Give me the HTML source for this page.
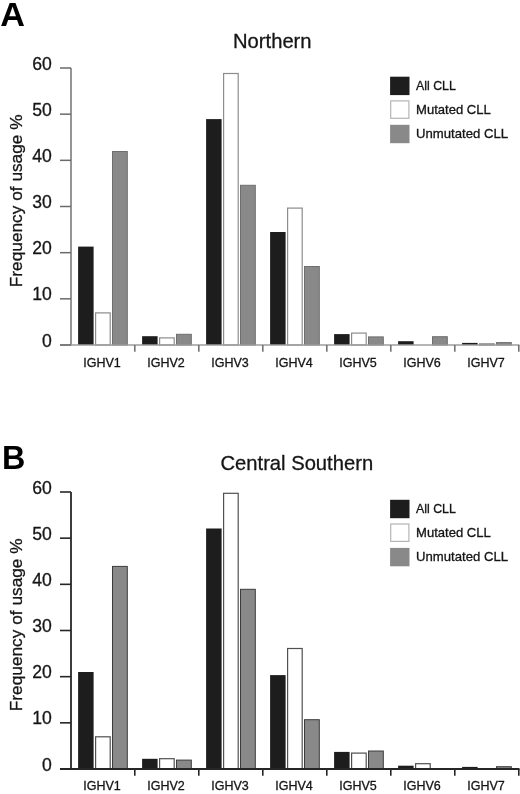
<!DOCTYPE html>
<html><head><meta charset="utf-8"><style>
html,body{margin:0;padding:0;background:#fff;}
body{width:520px;height:794px;overflow:hidden;}
svg{display:block;will-change:transform;}
</style></head><body>
<svg width="520" height="794" viewBox="0 0 520 794">
<rect width="520" height="794" fill="#fff"/>
<text transform="translate(0.30,26.00) scale(1.06,1)" x="0" y="0" font-family='"Liberation Sans", sans-serif' font-weight="bold" font-size="32.3" fill="#000">A</text>
<text x="272.3" y="48.10" text-anchor="middle" font-family='"Liberation Sans", sans-serif' font-size="20.2" fill="#151515" stroke="#151515" stroke-width="0.3">Northern</text>
<text transform="translate(22.3,287.20) rotate(-90)" x="0" y="0" font-family='"Liberation Sans", sans-serif' font-size="17" fill="#151515" stroke="#151515" stroke-width="0.3" textLength="172.8" lengthAdjust="spacingAndGlyphs">Frequency of usage %</text>
<rect x="78.10" y="246.60" width="15.5" height="98.40" fill="#1d1d1d"/>
<rect x="95.60" y="312.90" width="14.60" height="32.10" fill="#fff" stroke="#8c8c8c" stroke-width="1.2"/>
<rect x="112.50" y="151.50" width="14.80" height="193.50" fill="#898989" stroke="#6e6e6e" stroke-width="1.0"/>
<rect x="142.10" y="336.20" width="15.5" height="8.80" fill="#1d1d1d"/>
<rect x="159.60" y="337.90" width="14.60" height="7.10" fill="#fff" stroke="#8c8c8c" stroke-width="1.2"/>
<rect x="176.50" y="334.30" width="14.80" height="10.70" fill="#898989" stroke="#6e6e6e" stroke-width="1.0"/>
<rect x="206.10" y="119.10" width="15.5" height="225.90" fill="#1d1d1d"/>
<rect x="223.60" y="73.50" width="14.60" height="271.50" fill="#fff" stroke="#8c8c8c" stroke-width="1.2"/>
<rect x="240.50" y="185.30" width="14.80" height="159.70" fill="#898989" stroke="#6e6e6e" stroke-width="1.0"/>
<rect x="270.10" y="232.00" width="15.5" height="113.00" fill="#1d1d1d"/>
<rect x="287.60" y="208.10" width="14.60" height="136.90" fill="#fff" stroke="#8c8c8c" stroke-width="1.2"/>
<rect x="304.50" y="266.50" width="14.80" height="78.50" fill="#898989" stroke="#6e6e6e" stroke-width="1.0"/>
<rect x="334.10" y="334.10" width="15.5" height="10.90" fill="#1d1d1d"/>
<rect x="351.60" y="333.10" width="14.60" height="11.90" fill="#fff" stroke="#8c8c8c" stroke-width="1.2"/>
<rect x="368.50" y="336.90" width="14.80" height="8.10" fill="#898989" stroke="#6e6e6e" stroke-width="1.0"/>
<rect x="398.10" y="341.20" width="15.5" height="3.80" fill="#1d1d1d"/>
<rect x="432.50" y="336.70" width="14.80" height="8.30" fill="#898989" stroke="#6e6e6e" stroke-width="1.0"/>
<rect x="462.10" y="342.90" width="15.5" height="2.10" fill="#1d1d1d"/>
<rect x="479.60" y="343.80" width="14.60" height="1.20" fill="#fff" stroke="#8c8c8c" stroke-width="1.2"/>
<rect x="496.50" y="342.60" width="14.80" height="2.40" fill="#898989" stroke="#6e6e6e" stroke-width="1.0"/>
<line x1="71" y1="68.00" x2="71" y2="345.00" stroke="#8a8a8a" stroke-width="1.8"/>
<line x1="60" y1="345.00" x2="519.5" y2="345.00" stroke="#9c9c9c" stroke-width="1.4"/>
<line x1="60" y1="345.00" x2="71" y2="345.00" stroke="#6a6a6a" stroke-width="1.5"/>
<line x1="60" y1="68.00" x2="71" y2="68.00" stroke="#6a6a6a" stroke-width="1.5"/>
<line x1="60" y1="114.17" x2="71" y2="114.17" stroke="#6a6a6a" stroke-width="1.5"/>
<line x1="60" y1="160.33" x2="71" y2="160.33" stroke="#6a6a6a" stroke-width="1.5"/>
<line x1="60" y1="206.50" x2="71" y2="206.50" stroke="#6a6a6a" stroke-width="1.5"/>
<line x1="60" y1="252.67" x2="71" y2="252.67" stroke="#6a6a6a" stroke-width="1.5"/>
<line x1="60" y1="298.83" x2="71" y2="298.83" stroke="#6a6a6a" stroke-width="1.5"/>
<line x1="134.80" y1="345.00" x2="134.80" y2="351.80" stroke="#6a6a6a" stroke-width="1.5"/>
<line x1="198.80" y1="345.00" x2="198.80" y2="351.80" stroke="#6a6a6a" stroke-width="1.5"/>
<line x1="262.80" y1="345.00" x2="262.80" y2="351.80" stroke="#6a6a6a" stroke-width="1.5"/>
<line x1="326.80" y1="345.00" x2="326.80" y2="351.80" stroke="#6a6a6a" stroke-width="1.5"/>
<line x1="390.80" y1="345.00" x2="390.80" y2="351.80" stroke="#6a6a6a" stroke-width="1.5"/>
<line x1="454.80" y1="345.00" x2="454.80" y2="351.80" stroke="#6a6a6a" stroke-width="1.5"/>
<line x1="518.80" y1="345.00" x2="518.80" y2="351.80" stroke="#6a6a6a" stroke-width="1.5"/>
<text x="51.8" y="69.50" text-anchor="end" font-family='"Liberation Sans", sans-serif' font-size="17.6" fill="#151515" stroke="#151515" stroke-width="0.3">60</text>
<text x="51.8" y="115.67" text-anchor="end" font-family='"Liberation Sans", sans-serif' font-size="17.6" fill="#151515" stroke="#151515" stroke-width="0.3">50</text>
<text x="51.8" y="161.83" text-anchor="end" font-family='"Liberation Sans", sans-serif' font-size="17.6" fill="#151515" stroke="#151515" stroke-width="0.3">40</text>
<text x="51.8" y="208.00" text-anchor="end" font-family='"Liberation Sans", sans-serif' font-size="17.6" fill="#151515" stroke="#151515" stroke-width="0.3">30</text>
<text x="51.8" y="254.17" text-anchor="end" font-family='"Liberation Sans", sans-serif' font-size="17.6" fill="#151515" stroke="#151515" stroke-width="0.3">20</text>
<text x="51.8" y="300.33" text-anchor="end" font-family='"Liberation Sans", sans-serif' font-size="17.6" fill="#151515" stroke="#151515" stroke-width="0.3">10</text>
<text x="51.8" y="346.50" text-anchor="end" font-family='"Liberation Sans", sans-serif' font-size="17.6" fill="#151515" stroke="#151515" stroke-width="0.3">0</text>
<text x="102.00" y="366.50" text-anchor="middle" font-family='"Liberation Sans", sans-serif' font-size="12.5" fill="#151515" stroke="#151515" stroke-width="0.3">IGHV1</text>
<text x="166.00" y="366.50" text-anchor="middle" font-family='"Liberation Sans", sans-serif' font-size="12.5" fill="#151515" stroke="#151515" stroke-width="0.3">IGHV2</text>
<text x="230.00" y="366.50" text-anchor="middle" font-family='"Liberation Sans", sans-serif' font-size="12.5" fill="#151515" stroke="#151515" stroke-width="0.3">IGHV3</text>
<text x="294.00" y="366.50" text-anchor="middle" font-family='"Liberation Sans", sans-serif' font-size="12.5" fill="#151515" stroke="#151515" stroke-width="0.3">IGHV4</text>
<text x="358.00" y="366.50" text-anchor="middle" font-family='"Liberation Sans", sans-serif' font-size="12.5" fill="#151515" stroke="#151515" stroke-width="0.3">IGHV5</text>
<text x="422.00" y="366.50" text-anchor="middle" font-family='"Liberation Sans", sans-serif' font-size="12.5" fill="#151515" stroke="#151515" stroke-width="0.3">IGHV6</text>
<text x="486.00" y="366.50" text-anchor="middle" font-family='"Liberation Sans", sans-serif' font-size="12.5" fill="#151515" stroke="#151515" stroke-width="0.3">IGHV7</text>
<rect x="390.1" y="76.70" width="19.4" height="18.4" fill="#1d1d1d"/>
<text x="416.0" y="89.70" font-family='"Liberation Sans", sans-serif' font-size="12.8" fill="#151515" stroke="#151515" stroke-width="0.3" textLength="39.8" lengthAdjust="spacingAndGlyphs">All CLL</text>
<rect x="390.70" y="100.90" width="18.20" height="17.40" fill="#fff" stroke="#b5b5b5" stroke-width="1.2"/>
<text x="416.0" y="113.70" font-family='"Liberation Sans", sans-serif' font-size="12.8" fill="#151515" stroke="#151515" stroke-width="0.3" textLength="74.8" lengthAdjust="spacingAndGlyphs">Mutated CLL</text>
<rect x="390.1" y="124.80" width="19.4" height="18.4" fill="#898989"/>
<text x="416.0" y="138.00" font-family='"Liberation Sans", sans-serif' font-size="12.8" fill="#151515" stroke="#151515" stroke-width="0.3" textLength="92.0" lengthAdjust="spacingAndGlyphs">Unmutated CLL</text>
<text transform="translate(2.00,468.90) scale(1.0,1)" x="0" y="0" font-family='"Liberation Sans", sans-serif' font-weight="bold" font-size="32.3" fill="#000">B</text>
<text x="296.8" y="469.60" text-anchor="middle" font-family='"Liberation Sans", sans-serif' font-size="20.2" fill="#151515" stroke="#151515" stroke-width="0.3">Central Southern</text>
<text transform="translate(22.3,711.20) rotate(-90)" x="0" y="0" font-family='"Liberation Sans", sans-serif' font-size="17" fill="#151515" stroke="#151515" stroke-width="0.3" textLength="172.8" lengthAdjust="spacingAndGlyphs">Frequency of usage %</text>
<rect x="78.10" y="672.00" width="15.5" height="97.00" fill="#1d1d1d"/>
<rect x="95.60" y="736.80" width="14.60" height="32.20" fill="#fff" stroke="#505050" stroke-width="1.2"/>
<rect x="112.50" y="566.40" width="14.80" height="202.60" fill="#898989" stroke="#3c3c3c" stroke-width="1.0"/>
<rect x="142.10" y="758.80" width="15.5" height="10.20" fill="#1d1d1d"/>
<rect x="159.60" y="758.70" width="14.60" height="10.30" fill="#fff" stroke="#505050" stroke-width="1.2"/>
<rect x="176.50" y="760.10" width="14.80" height="8.90" fill="#898989" stroke="#3c3c3c" stroke-width="1.0"/>
<rect x="206.10" y="528.50" width="15.5" height="240.50" fill="#1d1d1d"/>
<rect x="223.60" y="493.30" width="14.60" height="275.70" fill="#fff" stroke="#505050" stroke-width="1.2"/>
<rect x="240.50" y="589.30" width="14.80" height="179.70" fill="#898989" stroke="#3c3c3c" stroke-width="1.0"/>
<rect x="270.10" y="675.10" width="15.5" height="93.90" fill="#1d1d1d"/>
<rect x="287.60" y="648.50" width="14.60" height="120.50" fill="#fff" stroke="#505050" stroke-width="1.2"/>
<rect x="304.50" y="719.70" width="14.80" height="49.30" fill="#898989" stroke="#3c3c3c" stroke-width="1.0"/>
<rect x="334.10" y="751.90" width="15.5" height="17.10" fill="#1d1d1d"/>
<rect x="351.60" y="753.10" width="14.60" height="15.90" fill="#fff" stroke="#505050" stroke-width="1.2"/>
<rect x="368.50" y="751.00" width="14.80" height="18.00" fill="#898989" stroke="#3c3c3c" stroke-width="1.0"/>
<rect x="398.10" y="765.70" width="15.5" height="3.30" fill="#1d1d1d"/>
<rect x="415.60" y="763.70" width="14.60" height="5.30" fill="#fff" stroke="#505050" stroke-width="1.2"/>
<rect x="462.10" y="766.90" width="15.5" height="2.10" fill="#1d1d1d"/>
<rect x="496.50" y="766.70" width="14.80" height="2.30" fill="#898989" stroke="#3c3c3c" stroke-width="1.0"/>
<line x1="71" y1="492.00" x2="71" y2="769.00" stroke="#262626" stroke-width="1.8"/>
<line x1="60" y1="769.00" x2="519.5" y2="769.00" stroke="#262626" stroke-width="1.8"/>
<line x1="60" y1="769.00" x2="71" y2="769.00" stroke="#262626" stroke-width="1.6"/>
<line x1="60" y1="492.00" x2="71" y2="492.00" stroke="#262626" stroke-width="1.6"/>
<line x1="60" y1="538.17" x2="71" y2="538.17" stroke="#262626" stroke-width="1.6"/>
<line x1="60" y1="584.33" x2="71" y2="584.33" stroke="#262626" stroke-width="1.6"/>
<line x1="60" y1="630.50" x2="71" y2="630.50" stroke="#262626" stroke-width="1.6"/>
<line x1="60" y1="676.67" x2="71" y2="676.67" stroke="#262626" stroke-width="1.6"/>
<line x1="60" y1="722.83" x2="71" y2="722.83" stroke="#262626" stroke-width="1.6"/>
<line x1="134.80" y1="769.00" x2="134.80" y2="775.80" stroke="#262626" stroke-width="1.6"/>
<line x1="198.80" y1="769.00" x2="198.80" y2="775.80" stroke="#262626" stroke-width="1.6"/>
<line x1="262.80" y1="769.00" x2="262.80" y2="775.80" stroke="#262626" stroke-width="1.6"/>
<line x1="326.80" y1="769.00" x2="326.80" y2="775.80" stroke="#262626" stroke-width="1.6"/>
<line x1="390.80" y1="769.00" x2="390.80" y2="775.80" stroke="#262626" stroke-width="1.6"/>
<line x1="454.80" y1="769.00" x2="454.80" y2="775.80" stroke="#262626" stroke-width="1.6"/>
<line x1="518.80" y1="769.00" x2="518.80" y2="775.80" stroke="#262626" stroke-width="1.6"/>
<text x="51.8" y="493.50" text-anchor="end" font-family='"Liberation Sans", sans-serif' font-size="17.6" fill="#151515" stroke="#151515" stroke-width="0.3">60</text>
<text x="51.8" y="539.67" text-anchor="end" font-family='"Liberation Sans", sans-serif' font-size="17.6" fill="#151515" stroke="#151515" stroke-width="0.3">50</text>
<text x="51.8" y="585.83" text-anchor="end" font-family='"Liberation Sans", sans-serif' font-size="17.6" fill="#151515" stroke="#151515" stroke-width="0.3">40</text>
<text x="51.8" y="632.00" text-anchor="end" font-family='"Liberation Sans", sans-serif' font-size="17.6" fill="#151515" stroke="#151515" stroke-width="0.3">30</text>
<text x="51.8" y="678.17" text-anchor="end" font-family='"Liberation Sans", sans-serif' font-size="17.6" fill="#151515" stroke="#151515" stroke-width="0.3">20</text>
<text x="51.8" y="724.33" text-anchor="end" font-family='"Liberation Sans", sans-serif' font-size="17.6" fill="#151515" stroke="#151515" stroke-width="0.3">10</text>
<text x="51.8" y="770.50" text-anchor="end" font-family='"Liberation Sans", sans-serif' font-size="17.6" fill="#151515" stroke="#151515" stroke-width="0.3">0</text>
<text x="102.00" y="789.80" text-anchor="middle" font-family='"Liberation Sans", sans-serif' font-size="12.5" fill="#151515" stroke="#151515" stroke-width="0.3">IGHV1</text>
<text x="166.00" y="789.80" text-anchor="middle" font-family='"Liberation Sans", sans-serif' font-size="12.5" fill="#151515" stroke="#151515" stroke-width="0.3">IGHV2</text>
<text x="230.00" y="789.80" text-anchor="middle" font-family='"Liberation Sans", sans-serif' font-size="12.5" fill="#151515" stroke="#151515" stroke-width="0.3">IGHV3</text>
<text x="294.00" y="789.80" text-anchor="middle" font-family='"Liberation Sans", sans-serif' font-size="12.5" fill="#151515" stroke="#151515" stroke-width="0.3">IGHV4</text>
<text x="358.00" y="789.80" text-anchor="middle" font-family='"Liberation Sans", sans-serif' font-size="12.5" fill="#151515" stroke="#151515" stroke-width="0.3">IGHV5</text>
<text x="422.00" y="789.80" text-anchor="middle" font-family='"Liberation Sans", sans-serif' font-size="12.5" fill="#151515" stroke="#151515" stroke-width="0.3">IGHV6</text>
<text x="486.00" y="789.80" text-anchor="middle" font-family='"Liberation Sans", sans-serif' font-size="12.5" fill="#151515" stroke="#151515" stroke-width="0.3">IGHV7</text>
<rect x="390.1" y="499.80" width="19.4" height="18.4" fill="#1d1d1d"/>
<text x="416.0" y="512.80" font-family='"Liberation Sans", sans-serif' font-size="12.8" fill="#151515" stroke="#151515" stroke-width="0.3" textLength="39.8" lengthAdjust="spacingAndGlyphs">All CLL</text>
<rect x="390.70" y="524.00" width="18.20" height="17.40" fill="#fff" stroke="#b5b5b5" stroke-width="1.2"/>
<text x="416.0" y="536.80" font-family='"Liberation Sans", sans-serif' font-size="12.8" fill="#151515" stroke="#151515" stroke-width="0.3" textLength="74.8" lengthAdjust="spacingAndGlyphs">Mutated CLL</text>
<rect x="390.1" y="547.90" width="19.4" height="18.4" fill="#898989"/>
<text x="416.0" y="561.10" font-family='"Liberation Sans", sans-serif' font-size="12.8" fill="#151515" stroke="#151515" stroke-width="0.3" textLength="92.0" lengthAdjust="spacingAndGlyphs">Unmutated CLL</text>
</svg>
</body></html>
